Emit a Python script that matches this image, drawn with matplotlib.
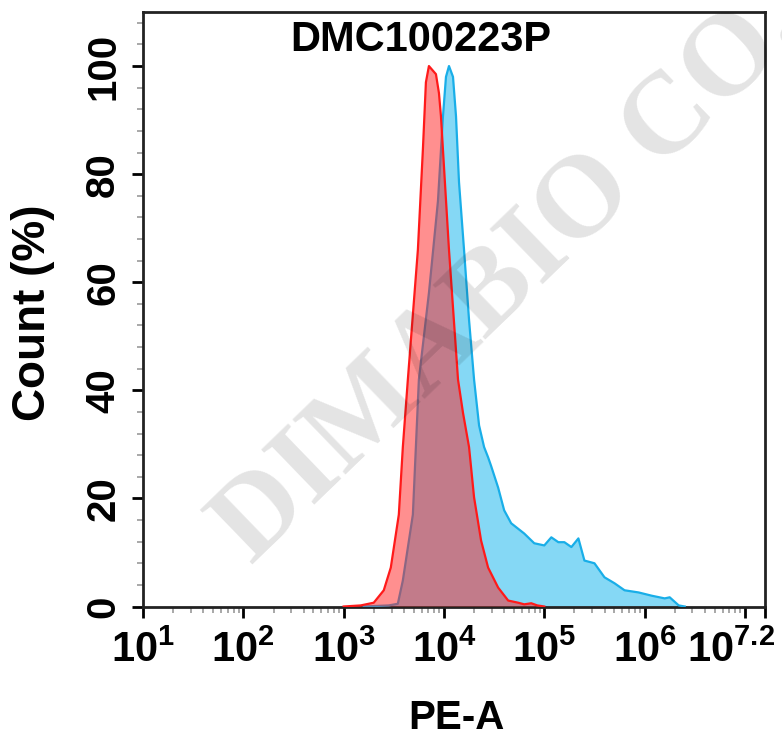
import numpy as np
import matplotlib
matplotlib.use("Agg")
import matplotlib.pyplot as plt
from matplotlib.ticker import FixedLocator, NullFormatter
from matplotlib.transforms import ScaledTranslation

plt.rcParams['font.family'] = ['Liberation Sans', 'DejaVu Sans']
plt.rcParams['mathtext.fontset'] = 'custom'
plt.rcParams['mathtext.rm'] = 'Liberation Sans:bold'
plt.rcParams['mathtext.bf'] = 'Liberation Sans:bold'
plt.rcParams['mathtext.it'] = 'Liberation Sans:bold'

title = "DMC100223P"
x_label = "PE-A"
y_label = "Count (%)"
watermark = "DIMABIO CO."

# log10(PE-A) positions and normalized count (%) for each histogram
red_log = [3.00, 3.17, 3.30, 3.40, 3.47, 3.55, 3.59, 3.64, 3.74, 3.79, 3.82, 3.85,
           3.92, 3.95, 3.97, 4.00, 4.05, 4.14, 4.19, 4.25, 4.30, 4.37, 4.44, 4.54,
           4.64, 4.74, 4.80, 4.87, 4.93, 5.00]
red_cnt = [0.0, 0.2, 0.7, 3.0, 7.2, 17.0, 29.5, 42.0, 66.0, 84.6, 97.0, 100.0,
           98.5, 95.0, 90.7, 81.4, 66.0, 42.0, 35.8, 29.5, 20.2, 12.2, 7.2, 3.5,
           1.1, 0.7, 0.4, 0.6, 0.2, 0.0]

blue_log = [3.20, 3.45, 3.54, 3.59, 3.69, 3.72, 3.75, 3.85, 3.94, 3.99, 4.02, 4.05,
            4.09, 4.12, 4.15, 4.20, 4.25, 4.30, 4.35, 4.40, 4.44, 4.47, 4.54, 4.60,
            4.67, 4.80, 4.90, 5.00, 5.07, 5.14, 5.20, 5.27, 5.34, 5.40, 5.50, 5.60,
            5.70, 5.80, 5.94, 6.07, 6.20, 6.25, 6.34, 6.40]
blue_cnt = [0.0, 0.2, 0.5, 4.8, 17.0, 29.5, 42.0, 58.0, 75.0, 90.7, 98.0, 100.0,
            98.0, 90.7, 78.5, 66.0, 53.0, 42.0, 33.5, 29.5, 27.6, 26.0, 22.0, 17.8,
            15.4, 13.5, 11.7, 11.3, 12.8, 11.9, 11.9, 11.0, 12.6, 8.5, 8.0, 5.4,
            4.3, 3.0, 2.6, 2.0, 1.5, 1.7, 0.2, 0.0]

x_major = [1, 2, 3, 4, 5, 6, 7, 7.2]
x_major_labels = [r'$\mathbf{10^{1}}$', r'$\mathbf{10^{2}}$', r'$\mathbf{10^{3}}$',
                  r'$\mathbf{10^{4}}$', r'$\mathbf{10^{5}}$', r'$\mathbf{10^{6}}$', '',
                  r'$\mathbf{10^{7.2}}$']
y_major = [0, 20, 40, 60, 80, 100]

W, H = 782, 740
fig = plt.figure(figsize=(W / 100, H / 100), dpi=100)
ax = fig.add_axes([143 / W, 1 - 606.5 / H, (765 - 143) / W, (606.5 - 12) / H])

bx = np.power(10.0, blue_log)
rx = np.power(10.0, red_log)
ax.fill_between(bx, blue_cnt, 0, facecolor='#5ccbf2', alpha=0.75, edgecolor='none', zorder=2)
ax.plot(bx, blue_cnt, color='#19aee8', lw=1.6, zorder=3)
ax.fill_between(rx, red_cnt, 0, facecolor='#ff2020', alpha=0.5, edgecolor='none', zorder=4)
ax.plot(rx, red_cnt, color='#ff1a1a', lw=1.6, zorder=5)

ax.set_xscale('log')
ax.set_xlim(10**1, 10**7.2)
ax.set_ylim(0, 110)

ax.xaxis.set_major_locator(FixedLocator([10**v for v in x_major]))
ax.set_xticklabels(x_major_labels)
minors = []
for d in range(1, 8):
    for m in range(2, 10):
        v = m * 10**d
        if v < 10**7.2:
            minors.append(v)
ax.xaxis.set_minor_locator(FixedLocator(minors))
ax.xaxis.set_minor_formatter(NullFormatter())

ax.yaxis.set_major_locator(FixedLocator(y_major))
ax.yaxis.set_minor_locator(FixedLocator([v for v in range(0, 111, 4) if v % 20 != 0]))
ax.set_yticklabels([str(v) for v in y_major], rotation=90, va='center',
                   fontsize=29, fontweight='bold')

ax.tick_params(axis='x', which='major', direction='out', length=8, width=2,
               labelsize=30, pad=9, color='black')
ax.tick_params(axis='y', which='major', direction='out', length=8, width=2, pad=7, color='black')
ax.tick_params(which='minor', direction='out', length=4, width=1.2, color='#999999')

# shift the last (10^7.2) label left so it stays inside the picture
last = ax.xaxis.get_major_ticks()[-1]
last.label1.set_transform(last.label1.get_transform() + ScaledTranslation(-0.34, 0, fig.dpi_scale_trans))

for s in ax.spines.values():
    s.set_linewidth(2)
    s.set_color('#222222')

fig.text(421 / W, 1 - 40 / H, title, ha='center', va='center', fontsize=30, fontweight='bold')
fig.text(456 / W, 1 - 718 / H, x_label, ha='center', va='center', fontsize=29, fontweight='bold')
fig.text(33 / W, 1 - 313 / H, y_label, ha='center', va='center', rotation=90,
         fontsize=33, fontweight='bold')

fig.text(252 / W, 1 - 566 / H, watermark, fontsize=84, fontweight='bold',
         family=['Liberation Serif', 'DejaVu Serif'], color='black', alpha=0.11,
         rotation=44, rotation_mode='anchor', ha='left', va='baseline', zorder=10)

fig.savefig("out.png", dpi=100)
